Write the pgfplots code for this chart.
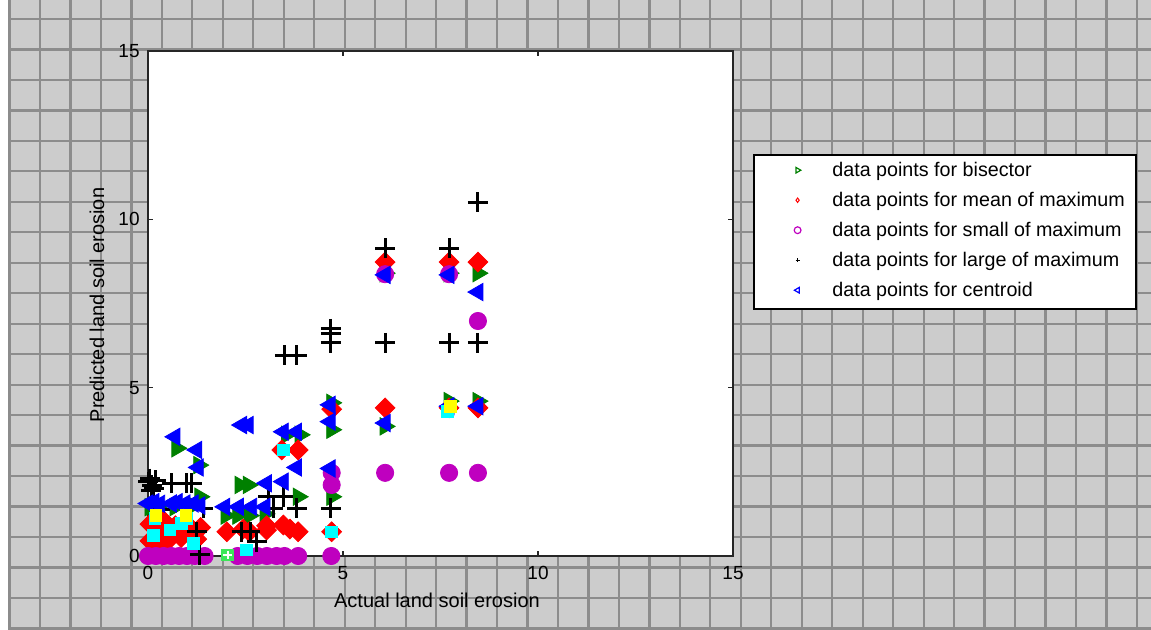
\documentclass[border=0pt]{standalone}
\usepackage{fontspec}
\setmainfont{Liberation Sans}
\usepackage{pgfplots}
\pgfplotsset{compat=1.18}
\definecolor{bgray}{RGB}{204,204,204}
\definecolor{lgray}{RGB}{140,140,140}
\definecolor{mgreen}{RGB}{0,128,0}
\definecolor{mmag}{RGB}{191,0,191}
\definecolor{mcyan}{RGB}{0,255,255}
\definecolor{myellow}{RGB}{255,255,0}
\definecolor{lgreen}{RGB}{60,230,90}
\begin{document}
\begin{tikzpicture}
\begin{scope}[x=0.5pt,y=-0.5pt]
\path[use as bounding box] (0,0) rectangle (1151,630);
\fill[white] (0,0) rectangle (1151,630);
\fill[bgray] (8,0) rectangle (1151,629);
\foreach \k in {0,...,37} \draw[lgray,line width=1.1pt] ({9.53+30.47*\k},0) -- ({9.53+30.47*\k},629);
\foreach \k in {0,...,20} \draw[lgray,line width=1.1pt] (8,{19+30.47*\k}) -- (1151,{19+30.47*\k});
\end{scope}
\begin{axis}[
  at={(74pt,-278pt)}, anchor=south west,
  scale only axis, width=292.5pt, height=252.5pt,
  xmin=0,xmax=15,ymin=0,ymax=15,
  xtick={0,5,10,15}, ytick={0,5,10,15},
  tick align=inside, major tick length=2.5pt,
  tick style={black!85, line width=0.6pt},
  axis background/.style={fill=white},
  axis line style={black!85, line width=0.8pt},
  clip=false,
  /pgf/number format/assume math mode=true,
  ticklabel style={font=\fontsize{9.5}{11}\selectfont},
  xticklabel style={inner sep=0pt, yshift=-5pt},
  yticklabel style={inner sep=0pt, xshift=-4pt},
  every axis x label/.style={at={(axis description cs:0.494,0)}, anchor=base, yshift=-25.5pt, font=\fontsize{10}{12}\selectfont},
  every axis y label/.style={at={(axis description cs:-0.0752,0.497)}, rotate=90, anchor=base, font=\fontsize{10}{12}\selectfont},
  xlabel={Actual land soil erosion},
  ylabel={Predicted land soil erosion},
  legend style={at={(1.0342,0.796)}, anchor=north west, draw=black, line width=0.8pt, fill=white,
    inner xsep=5.5pt, inner ysep=3.5pt, row sep=5pt, column sep=1pt,
    font=\fontsize{9.85}{12}\selectfont,
    nodes={inner sep=0pt, text height=7.5pt, text depth=2.5pt}},
  legend cell align=left,
  legend image code/.code={\path (0pt,0pt) (32pt,0pt); \draw[#1] plot coordinates {(16pt,0.8pt)};},
]
% bisector
\addplot[only marks, forget plot, mark=triangle*, mark size=5pt, mark options={rotate=-90, fill=mgreen, draw=mgreen}] coordinates {
(0.05,1.45) (0.3,1.5) (0.69,1.45) (0.74,3.2) (1.16,1.5) (1.33,1.76) (1.3,2.7)
(2.0,1.2) (2.3,1.2) (2.6,1.2) (3.0,1.25) (2.36,2.11) (2.57,2.11) (3.55,3.6) (3.9,3.6) (3.85,1.76)
(4.71,4.55) (4.71,3.75) (4.71,1.76) (6.08,3.85) (7.72,4.6) (8.46,4.6) (6.08,8.4) (7.72,8.4) (8.46,8.4)};
% mean of maximum
\addplot[only marks, forget plot, mark=square*, mark size=3.5pt, mark options={rotate=45, fill=red, draw=red}] coordinates {
(0.05,0.45) (0.05,0.95) (0.25,0.7) (0.4,1.05) (0.55,0.5) (0.7,0.9) (0.85,0.55) (1.0,0.95) (1.15,0.7) (1.35,0.85) (1.25,0.5) (0.3,0.3)
(2.02,0.72) (2.44,0.8) (2.6,0.72) (3.04,0.77) (3.04,0.9) (3.47,0.92) (3.64,0.8) (3.85,0.72)
(3.43,3.15) (3.85,3.15) (4.71,4.36) (4.71,0.72) (6.08,4.4) (7.72,4.4) (8.46,4.4) (6.08,8.73) (7.72,8.73) (8.46,8.73)};
% small of maximum
\addplot[only marks, forget plot, mark=*, mark size=4.3pt, mark options={fill=mmag, draw=mmag}] coordinates {
(0.0,0) (0.2,0) (0.4,0) (0.6,0) (0.8,0) (1.0,0) (1.2,0) (1.45,0)
(2.3,0) (2.55,0) (2.8,0) (3.05,0) (3.3,0) (3.5,0) (3.85,0) (4.7,0)
(4.71,2.47) (4.71,2.11) (6.08,2.47) (7.72,2.47) (8.46,2.47) (8.46,6.98) (6.08,8.37) (7.72,8.37)};
% large of maximum
\addplot[only marks, forget plot, mark=+, mark size=5pt, mark options={draw=black, line width=1.5pt}] coordinates {
(0.0,2.2) (0.05,2.3) (0.1,2.1) (0.2,2.25) (0.15,2.0) (0.08,1.95) (0.61,2.16) (0.99,2.16) (1.12,2.16) (0.3,1.37) (1.42,1.42) (1.25,0.72) (1.33,0.03)
(2.4,0.72) (2.62,0.72) (2.79,0.42) (3.08,1.76) (3.47,1.76) (3.21,1.42) (3.81,1.42) (4.69,1.42)
(3.51,5.97) (3.82,5.97) (4.69,6.75) (4.69,6.6) (4.69,6.33) (6.08,6.33) (7.72,6.33) (8.46,6.33) (6.08,9.14) (7.72,9.14) (8.46,10.5)};
% centroid
\addplot[only marks, forget plot, mark=triangle*, mark size=5pt, mark options={rotate=90, fill=blue, draw=blue}] coordinates {
(0.69,3.54) (1.25,3.15) (1.29,2.63) (0.0,1.56) (0.15,1.6) (0.3,1.55) (0.6,1.56) (0.75,1.6) (0.95,1.56) (1.16,1.56) (1.33,1.5)
(1.97,1.46) (2.32,1.46) (2.66,1.46) (3.0,1.46) (2.4,3.89) (2.57,3.89) (3.04,2.16) (3.47,2.21) (3.81,2.63) (3.47,3.69) (3.81,3.69)
(4.67,4.49) (4.67,3.99) (4.67,2.6) (6.08,3.95) (7.72,4.45) (8.46,4.45) (6.08,8.35) (7.72,8.35) (8.46,7.84)};
% extra squares
\addplot[only marks, forget plot, mark=square*, mark size=2.9pt, mark options={fill=mcyan, draw=mcyan}] coordinates {
(0.14,0.62) (0.56,0.77) (0.86,0.97) (1.16,0.38) (0.18,1.12) (0.99,1.12) (2.53,0.18) (3.47,3.15) (4.71,0.72) (7.68,4.3)};
\addplot[only marks, forget plot, mark=square*, mark size=2.9pt, mark options={fill=myellow, draw=myellow}] coordinates {
(0.2,1.2) (0.97,1.2) (7.76,4.45)};
\addplot[only marks, forget plot, mark=square*, mark size=2.9pt, mark options={fill=lgreen, draw=lgreen}] coordinates {(2.04,0.03)};
\addplot[only marks, forget plot, mark=+, mark size=2.2pt, mark options={draw=white, line width=1pt}] coordinates {(2.04,0.03)};
% legend
\addlegendimage{only marks, mark=triangle, mark size=1.6pt, mark options={rotate=-90, draw=mgreen, line width=0.6pt}}
\addlegendentry{data points for bisector}
\addlegendimage{only marks, mark=diamond, mark size=1.1pt, mark options={draw=red, line width=0.5pt}}
\addlegendentry{data points for mean of maximum}
\addlegendimage{only marks, mark=o, mark size=1.7pt, mark options={draw=mmag, line width=0.6pt}}
\addlegendentry{data points for small of maximum}
\addlegendimage{only marks, mark=+, mark size=1pt, mark options={draw=black, line width=0.6pt}}
\addlegendentry{data points for large of maximum}
\addlegendimage{only marks, mark=triangle, mark size=1.6pt, mark options={rotate=90, draw=blue, line width=0.6pt}}
\addlegendentry{data points for centroid}
\end{axis}
\end{tikzpicture}
\end{document}
